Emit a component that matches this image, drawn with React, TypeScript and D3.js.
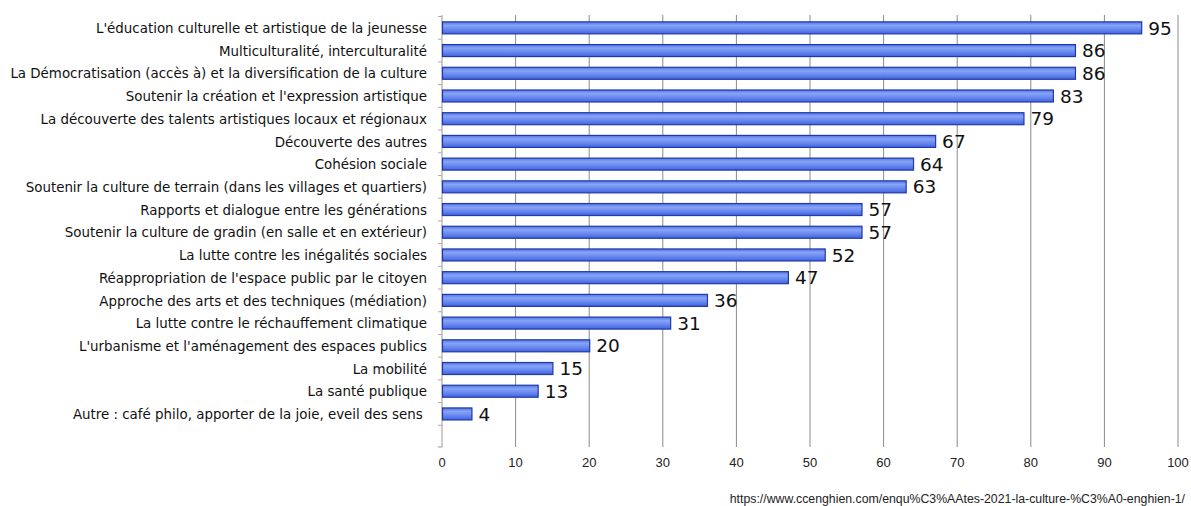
import React from "react";
import * as d3 from "d3";

const categories = [
  "L'éducation culturelle et artistique de la jeunesse",
  "Multiculturalité, interculturalité",
  "La Démocratisation (accès à) et la diversification de la culture",
  "Soutenir la création et l'expression artistique",
  "La découverte des talents artistiques locaux et régionaux",
  "Découverte des autres",
  "Cohésion sociale",
  "Soutenir la culture de terrain (dans les villages et quartiers)",
  "Rapports et dialogue entre les générations",
  "Soutenir la culture de gradin (en salle et en extérieur)",
  "La lutte contre les inégalités sociales",
  "Réappropriation de l'espace public par le citoyen",
  "Approche des arts et des techniques (médiation)",
  "La lutte contre le réchauffement climatique",
  "L'urbanisme et l'aménagement des espaces publics",
  "La mobilité",
  "La santé publique",
  "Autre : café philo, apporter de la joie, eveil des sens ",
];
const values = [95, 86, 86, 83, 79, 67, 64, 63, 57, 57, 52, 47, 36, 31, 20, 15, 13, 4];
const xTicks = [0, 10, 20, 30, 40, 50, 60, 70, 80, 90, 100];
const sourceText = "https://www.ccenghien.com/enqu%C3%AAtes-2021-la-culture-%C3%A0-enghien-1/";

const W = 1191;
const H = 506;

export default function App() {
  const x = d3.scaleLinear().domain([0, 100]).range([442, 1178]);
  const slots = d3.range(categories.length + 1);
  const y = d3.scaleBand<number>().domain(slots).range([16.5, 448]).padding(0);
  const barH = 12;
  const top = 15;
  const bottom = 447;
  return (
    <svg
      width={W}
      height={H}
      style={{ position: "absolute", left: 0, top: 0, background: "#fff" }}
    >
      <defs>
        <linearGradient id="barGrad" x1="0" y1="0" x2="0" y2="1">
          <stop offset="0%" stopColor="#5274ea" />
          <stop offset="30%" stopColor="#88a4f5" />
          <stop offset="65%" stopColor="#6586ee" />
          <stop offset="100%" stopColor="#4262e2" />
        </linearGradient>
      </defs>
      {xTicks.slice(1).map((t) => (
        <line key={t} x1={x(t)} x2={x(t)} y1={top} y2={bottom} stroke="#8a8a8a" strokeWidth={1} />
      ))}
      <line x1={x(0)} x2={x(0)} y1={top} y2={bottom} stroke="#9a9a9a" strokeWidth={1} />
      {slots.map((s) => (
        <line key={"yt" + s} x1={x(0) - 4} x2={x(0)} y1={y(s)!} y2={y(s)!} stroke="#aaa" strokeWidth={1} />
      ))}
      <line x1={x(0) - 4} x2={x(0)} y1={bottom} y2={bottom} stroke="#999" strokeWidth={1} />
      {values.map((v, i) => {
        const cy = y(i)! + y.bandwidth() / 2;
        return (
          <g key={i}>
            <rect
              x={x(0) + 0.5}
              y={cy - barH / 2}
              width={x(v) - x(0)}
              height={barH}
              fill="url(#barGrad)"
              stroke="#1f3aa8"
              strokeWidth={1.2}
            />
            <text
              x={x(v) + 7}
              y={cy}
              dy="0.36em"
              fontFamily="DejaVu Sans"
              fontSize={18.5}
              fill="#111"
            >
              {v}
            </text>
            <text
              x={427}
              y={cy}
              dy="0.35em"
              textAnchor="end"
              fontFamily="DejaVu Sans Condensed, DejaVu Sans"
              fontSize={14.9}
              fill="#111"
              style={{ whiteSpace: "pre" }}
            >
              {categories[i]}
            </text>
          </g>
        );
      })}
      {xTicks.map((t) => (
        <text
          key={"xl" + t}
          x={x(t)}
          y={462}
          dy="0.35em"
          textAnchor="middle"
          fontFamily="Liberation Sans, Arial"
          fontSize={13}
          fill="#222"
        >
          {t}
        </text>
      ))}
      <text
        x={1185}
        y={503}
        textAnchor="end"
        fontFamily="Liberation Sans, Arial"
        fontSize={12.3}
        fill="#222"
      >
        {sourceText}
      </text>
    </svg>
  );
}
